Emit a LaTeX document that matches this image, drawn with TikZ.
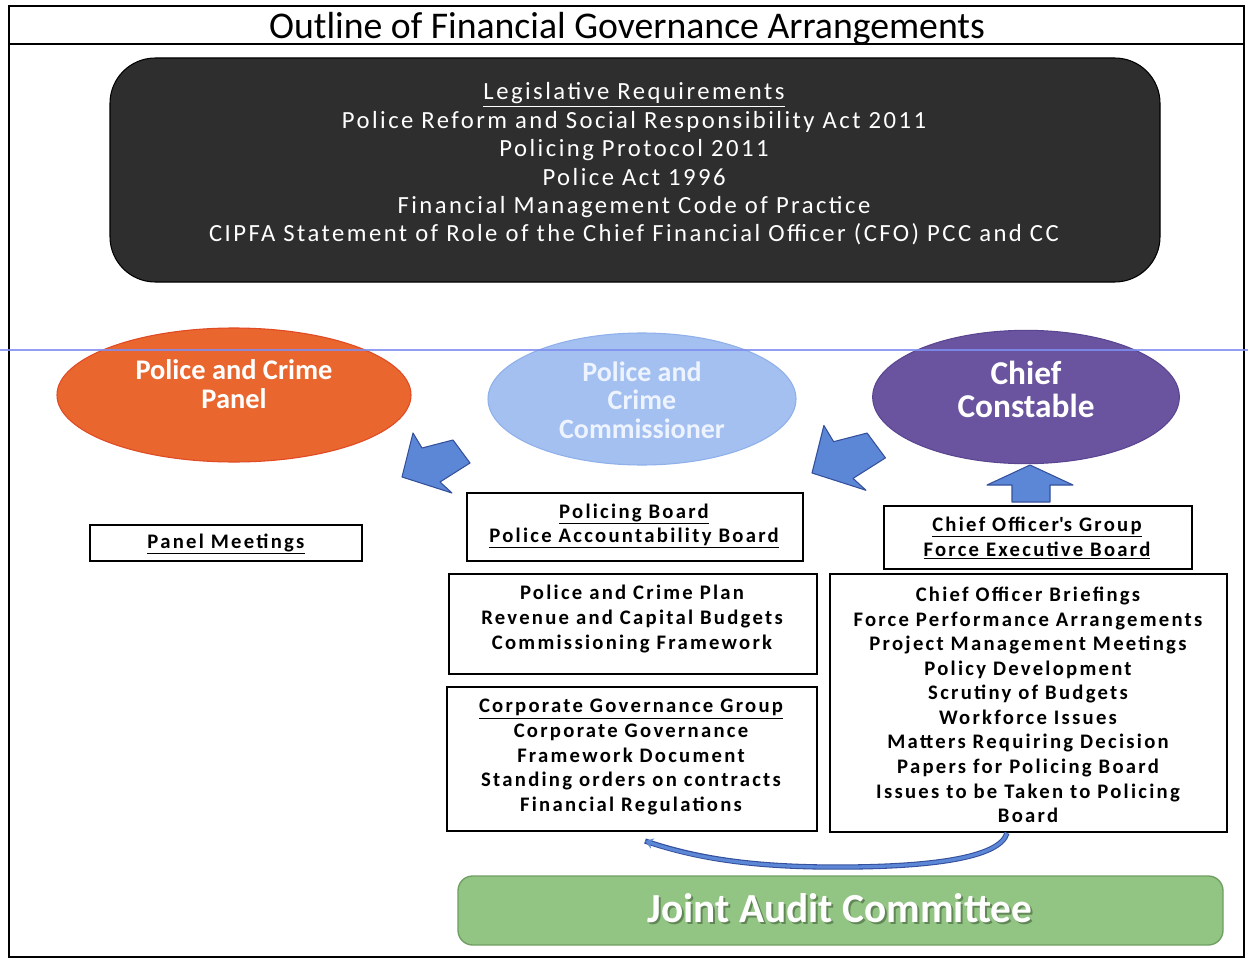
\documentclass[tikz,border=0pt]{standalone}
\usepackage{fontspec}
\setmainfont{Carlito}
\usetikzlibrary{shapes.geometric,arrows.meta}
\definecolor{darkbox}{HTML}{2E2E2E}
\definecolor{orangef}{HTML}{E9662E}
\definecolor{orangeb}{HTML}{E04A24}
\definecolor{bluef}{HTML}{A3C0F0}
\definecolor{blueb}{HTML}{8FB0EA}
\definecolor{purplef}{HTML}{6A549F}
\definecolor{purpleb}{HTML}{5A4590}
\definecolor{arrowf}{HTML}{5C87D6}
\definecolor{arrowb}{HTML}{34509C}
\definecolor{greenf}{HTML}{92C583}
\definecolor{greenb}{HTML}{6F9E62}
\definecolor{scanc}{HTML}{7F8EEF}
\definecolor{pcctext}{HTML}{EDF3FF}
\newcommand\legfont{\fontsize{18.5}{21.3}\selectfont\addfontfeatures{LetterSpace=10}}
\newcommand\boxfont{\fontsize{15.5}{18.4}\selectfont\bfseries\addfontfeatures{LetterSpace=11}}
\tikzset{
  box/.style={draw=black, line width=0.9pt, fill=white, inner sep=0pt},
  boxtext/.style={align=center, font=\boxfont, inner sep=0pt},
  oval/.style={ellipse, inner sep=0pt, line width=0.8pt},
  blockarrow/.style={fill=arrowf, draw=arrowb, line width=0.8pt, line join=round},
}
\begin{document}
\begin{tikzpicture}[x=0.75pt,y=-0.75pt]
\useasboundingbox (0,0) rectangle (1248,959);
\fill[white] (0,0) rectangle (1248,959);
% frame and title
\draw[line width=1.2pt] (9,6) rectangle (1244,957);
\draw[line width=1pt] (9,44) -- (1244,44);
\node[font=\fontsize{28.3}{30}\selectfont, inner sep=0pt] (title) at (627,29) {Outline of Financial Governance Arrangements};
% legislative box
\node[rounded corners=34pt, fill=darkbox, draw=black, line width=0.8pt, minimum width=787.5pt, minimum height=168pt] (leg) at (635,170) {};
\node[text=white, align=center, font=\legfont, inner sep=0pt] (legtext) at (634,164) {\underline{Legislative Requirements}\\
Police Reform and Social Responsibility Act 2011\\
Policing Protocol 2011\\
Police Act 1996\\
Financial Management Code of Practice\\
CIPFA Statement of Role of the Chief Financial Officer (CFO) PCC and CC};
% ellipses
\node[oval, fill=orangef, draw=orangeb, minimum width=265.5pt, minimum height=100.5pt] (pcpanel) at (234,395) {};
\node[text=white, align=center, font=\fontsize{21.3}{21.8}\selectfont\bfseries, inner sep=0pt] (pcpaneltext) at (234,384) {Police and Crime\\Panel};
\node[oval, fill=bluef, draw=blueb, minimum width=231pt, minimum height=99pt] (pcc) at (642,399) {};
\node[text=pcctext, align=center, font=\fontsize{21}{21.4}\selectfont\bfseries, inner sep=0pt] (pcctxt) at (642,400) {Police and\\Crime\\Commissioner};
\node[oval, fill=purplef, draw=purpleb, minimum width=230pt, minimum height=100pt] (cc) at (1026,397) {};
\node[text=white, align=center, font=\fontsize{25}{24.8}\selectfont\bfseries, inner sep=0pt] (cctext) at (1026,389) {Chief\\Constable};
% block arrows
\draw[blockarrow] (402,477) -- ++(11,-44) -- ++(9,15) -- ++(31,-8) -- ++(17,23) -- ++(-30,19) -- ++(12,11) -- cycle;
\begin{scope}[shift={(812,473)}, scale=1.08]
\draw[blockarrow] (0,0) -- ++(11,-44) -- ++(9,15) -- ++(31,-8) -- ++(17,23) -- ++(-30,19) -- ++(12,11) -- cycle;
\end{scope}
\draw[blockarrow] (1030,465) -- (1073,485) -- (1050,485) -- (1050,502) -- (1012,502) -- (1012,485) -- (987,485) -- cycle;
% boxes
\node[box, minimum width=204pt, minimum height=27pt] (pm) at (226,543) {};
\node[boxtext] (pmtext) at (226,544) {\underline{Panel Meetings}};
\node[box, minimum width=252pt, minimum height=51pt] (pb) at (635,527) {};
\node[boxtext] (pbtext) at (634,526) {\underline{Policing Board}\\\underline{Police Accountability Board}};
\node[box, minimum width=276pt, minimum height=75pt] (plan) at (633,624) {};
\node[boxtext] (plantext) at (632,619) {Police and Crime Plan\\Revenue and Capital Budgets\\Commissioning Framework};
\node[box, minimum width=277.5pt, minimum height=108pt] (corp) at (632,759) {};
\node[boxtext] (corptext) at (631,757) {\underline{Corporate Governance Group}\\Corporate Governance\\Framework Document\\Standing orders on contracts\\Financial Regulations};
\node[box, minimum width=231pt, minimum height=47.25pt] (cog) at (1038,537.5) {};
\node[boxtext] (cogtext) at (1037,538) {\underline{Chief Officer\textquotesingle s Group}\\\underline{Force Executive Board}};
\node[box, minimum width=297.75pt, minimum height=193.5pt] (rb) at (1028.5,703) {};
\node[boxtext] (rbtext) at (1028,705) {Chief Officer Briefings\\Force Performance Arrangements\\Project Management Meetings\\Policy Development\\Scrutiny of Budgets\\Workforce Issues\\Matters Requiring Decision\\Papers for Policing Board\\Issues to be Taken to Policing\\Board};
% curved connector
\coordinate (cs) at (1007,833);
\coordinate (ce) at (645,841);
\draw[arrowb, line width=4pt] (cs) .. controls (1000,858) and (930,868) .. (823,867) .. controls (740,866) and (690,856) .. (ce);
\draw[arrowf, line width=2.4pt, -{Stealth[length=6pt,width=8pt]}] (cs) .. controls (1000,858) and (930,868) .. (823,867) .. controls (740,866) and (690,856) .. (ce);
% joint audit committee
\node[rounded corners=11pt, fill=greenf, draw=greenb, line width=1pt, minimum width=573.75pt, minimum height=51.75pt] (jac) at (840.5,910.5) {};
\node[text=greenb!60!black, opacity=0.6, font=\fontsize{31}{32}\selectfont\bfseries, inner sep=0pt] (jacshadow) at (842,910) {Joint Audit Committee};
\node[text=white, font=\fontsize{31}{32}\selectfont\bfseries, inner sep=0pt] (jactext) at (840,908) {Joint Audit Committee};
% scan line
\draw[scanc, line width=1.3pt, opacity=0.85] (0,350) -- (1248,350);
\end{tikzpicture}
\end{document}
